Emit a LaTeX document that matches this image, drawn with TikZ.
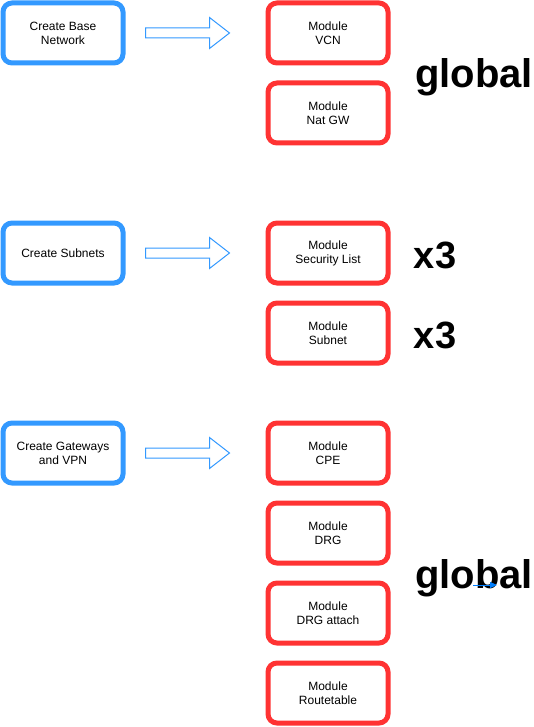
\documentclass[tikz,border=0pt]{standalone}
\usepackage{fontspec}
\setmainfont{Liberation Sans}
\usetikzlibrary{calc,arrows.meta}
\definecolor{bluebox}{HTML}{3399FF}
\definecolor{redbox}{HTML}{FF3333}
\definecolor{arrowblue}{HTML}{007FFF}
\begin{document}
\begin{tikzpicture}[x=1pt,y=-1pt,
  box/.style={rounded corners=9pt,line width=5pt,fill=white,minimum width=120pt,minimum height=60pt,
    align=center,inner sep=0pt,font=\fontsize{12}{14}\selectfont},
  stepbox/.style={box,draw=bluebox},
  modbox/.style={box,draw=redbox},
  bigtext/.style={font=\fontsize{38}{40}\selectfont\bfseries,anchor=base,inner sep=0pt},
  globaltext/.style={bigtext,font=\fontsize{40}{42}\selectfont\bfseries},
  blockarrow/.style={draw=bluebox,line width=1pt,fill=white}]
\useasboundingbox (0,0) rectangle (534,727);

\node[stepbox] (s1) at (63,33) {Create Base\\Network};
\node[stepbox] (s2) at (63,253) {Create Subnets};
\node[stepbox] (s3) at (63,453) {Create Gateways\\and VPN};

\node[modbox] (vcn) at (328,33) {Module\\VCN};
\node[modbox] (nat) at (328,113) {Module\\Nat GW};
\node[modbox] (sec) at (328,253) {Module\\Security List};
\node[modbox] (sub) at (328,333) {Module\\Subnet};
\node[modbox] (cpe) at (328,453) {Module\\CPE};
\node[modbox] (drg) at (328,533) {Module\\DRG};
\node[modbox] (drga) at (328,613) {Module\\DRG attach};
\node[modbox] (rt) at (328,693) {Module\\Routetable};

\foreach \s/\m in {s1/vcn,s2/sec,s3/cpe}{
  \coordinate (a0) at ($(\s.east)+(20,0)$);
  \coordinate (a1) at ($(\m.west)+(-36,0)$);
  \draw[blockarrow] ($(a0)+(0,-5)$) -- ($(a1)+(-20,-5)$) -- ($(a1)+(-20,-15.5)$) -- (a1)
    -- ($(a1)+(-20,15.5)$) -- ($(a1)+(-20,5)$) -- ($(a0)+(0,5)$) -- cycle;
}

\node[globaltext] (g1) at (474,88) {global};
\node[bigtext] (x1) at (435,268) {x3};
\node[bigtext] (x2) at (435,348) {x3};
\node[globaltext] (g2) at (474,588) {global};

\coordinate (t0) at (473,585);
\coordinate (t1) at (497,585);
\draw[arrowblue,line width=0.8pt,-{Triangle[length=7pt,width=6pt]}] (t0) -- (t1);
\end{tikzpicture}
\end{document}
